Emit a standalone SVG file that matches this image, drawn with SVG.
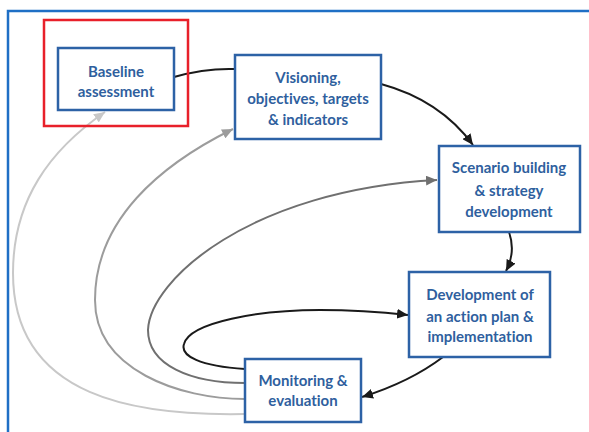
<svg xmlns="http://www.w3.org/2000/svg" width="589" height="432" viewBox="0 0 589 432">
<style>
.box{fill:#fff;stroke:#2d62a6;stroke-width:2.5}
.t{font-family:Lato,"Open Sans","Liberation Sans",sans-serif;font-weight:700;font-size:15px;fill:#2f5f9e;text-anchor:middle;font-variant-ligatures:none}
.c{fill:none;stroke-width:2}
</style>
<defs>
<marker id="ab" markerUnits="userSpaceOnUse" markerWidth="12" markerHeight="10" refX="11" refY="5" orient="auto"><path d="M0,0 L11,5 L0,10 Z" fill="#1a1a1a"/></marker>
<marker id="ad" markerUnits="userSpaceOnUse" markerWidth="12" markerHeight="10" refX="11" refY="5" orient="auto"><path d="M0,0 L11,5 L0,10 Z" fill="#707070"/></marker>
<marker id="am" markerUnits="userSpaceOnUse" markerWidth="12" markerHeight="10" refX="11" refY="5" orient="auto"><path d="M0,0 L11,5 L0,10 Z" fill="#9c9c9c"/></marker>
<marker id="al" markerUnits="userSpaceOnUse" markerWidth="12" markerHeight="10" refX="11" refY="5" orient="auto"><path d="M0,0 L11,5 L0,10 Z" fill="#c8c8c8"/></marker>
</defs>
<rect width="589" height="432" fill="#fff"/>
<path d="M8,432 V11 H589" fill="none" stroke="#1f6fc5" stroke-width="2.5"/>
<g id="connectors">
<path class="c" stroke="#c8c8c8" marker-end="url(#al)" d="M245,414 C140,416 13,400 13,273 C13,200 50,150 105,112"/>
<path class="c" stroke="#9c9c9c" marker-end="url(#am)" d="M245,399 C180,399 95,370 95,300 C95,220 160,165 233,129"/>
<path class="c" stroke="#707070" marker-end="url(#ad)" d="M245,383 C190,383 148,365 148,330 C150,280 250,190 437,180"/>
<path class="c" stroke="#1a1a1a" marker-end="url(#ab)" d="M245,369 C200,366 180,356 184,344 C190,322 260,310 320,310 C360,310 390,313 408,315"/>
<path class="c" stroke="#1a1a1a" d="M174,77 Q205,68 235,69"/>
<path class="c" stroke="#1a1a1a" marker-end="url(#ab)" d="M381,84 Q440,100 473,145"/>
<path class="c" stroke="#1a1a1a" marker-end="url(#ab)" d="M509,232 Q516,252 506,271"/>
<path class="c" stroke="#1a1a1a" marker-end="url(#ab)" d="M443,357 Q410,382 362,397"/>
</g>
<g id="highlight"><rect x="44" y="20" width="144" height="106" fill="none" stroke="#e8202a" stroke-width="2.5"/></g>
<g id="baseline"><rect class="box" x="58" y="48" width="116" height="62"/><text class="t" x="116" y="77">Baseline</text><text class="t" x="116" y="97">assessment</text></g>
<g id="visioning"><rect class="box" x="235" y="55" width="146" height="84"/><text class="t" x="308" y="83">Visioning,</text><text class="t" x="308" y="104">objectives, targets</text><text class="t" x="308" y="125">&amp; indicators</text></g>
<g id="scenario"><rect class="box" x="439" y="146" width="141" height="86"/><text class="t" x="509" y="173">Scenario building</text><text class="t" x="509" y="196">&amp; strategy</text><text class="t" x="509" y="217">development</text></g>
<g id="action"><rect class="box" x="409" y="272" width="141" height="85"/><text class="t" x="480" y="300">Development of</text><text class="t" x="480" y="322">an action plan &amp;</text><text class="t" x="480" y="342">implementation</text></g>
<g id="monitoring"><rect class="box" x="245" y="359" width="116" height="63"/><text class="t" x="303" y="386">Monitoring &amp;</text><text class="t" x="303" y="406">evaluation</text></g>
</svg>
